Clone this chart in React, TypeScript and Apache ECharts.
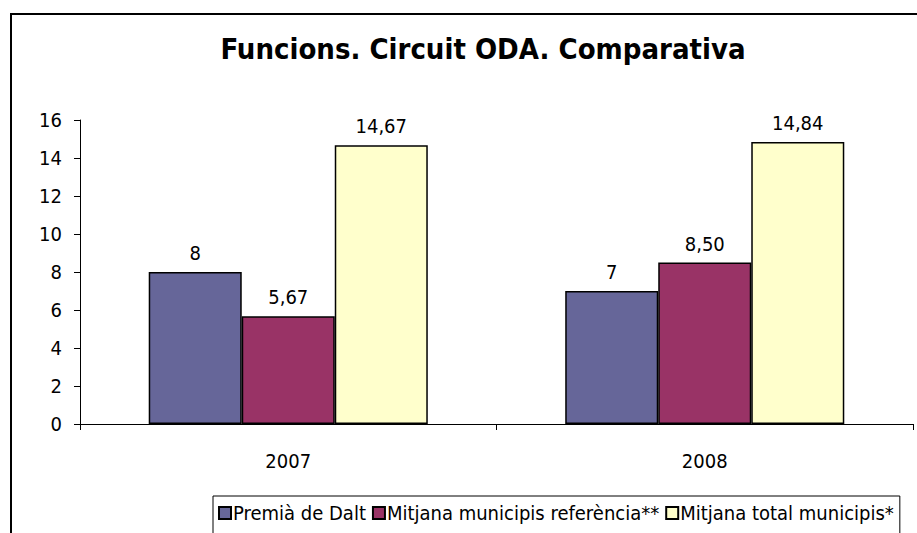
import React, { useEffect, useRef } from "react";
import * as echarts from "echarts";

const categories = ["2007", "2008"];
const seriesNames = ["Premià de Dalt", "Mitjana municipis referència**", "Mitjana total municipis*"];
const premia = [8, 7];
const referencia = [5.67, 8.5];
const total = [14.67, 14.84];
const seriesDecimals = [0, 2, 2];
const seriesColors = ["#666699", "#993366", "#FFFFCC"];

const FONT = "'DejaVu Sans Condensed', 'DejaVu Sans', sans-serif";

export default function App() {
  const ref = useRef<HTMLDivElement>(null);
  useEffect(() => {
    if (!ref.current) return;
    const chart = echarts.init(ref.current, null, { renderer: "svg" });
    const data = [premia, referencia, total];
    chart.setOption({
      animation: false,
      backgroundColor: "#ffffff",
      title: {
        text: "Funcions. Circuit ODA. Comparativa",
        left: 478,
        textAlign: "center",
        top: 29,
        textStyle: { fontFamily: FONT, fontWeight: "bold", fontSize: 29, color: "#000" },
      },
      graphic: [
        {
          type: "rect",
          shape: { x: 11, y: 14, width: 1000, height: 700 },
          style: { fill: "none", stroke: "#000", lineWidth: 2 },
          silent: true,
          z: 100,
        },
      ],
      grid: { left: 80, right: 4, top: 120, bottom: 109, containLabel: false },
      legend: {
        bottom: -20,
        left: 213,
        padding: [7, 6, 30, 5],
        borderColor: "#000",
        borderWidth: 1,
        itemWidth: 12,
        itemHeight: 12,
        itemGap: 6,
        icon: "rect",
        textStyle: { fontFamily: FONT, fontSize: 20, color: "#000", padding: [0, 0, 0, -3] },
        data: seriesNames,
      },
      xAxis: {
        type: "category",
        data: categories,
        axisLine: { lineStyle: { color: "#000", width: 1 } },
        axisTick: { show: true, length: 6, lineStyle: { color: "#000" } },
        axisLabel: { fontFamily: FONT, fontSize: 20, color: "#000", margin: 27 },
      },
      yAxis: {
        type: "value",
        min: 0,
        max: 16,
        interval: 2,
        axisLine: { show: true, lineStyle: { color: "#000", width: 1 } },
        axisTick: { show: true, length: 6, lineStyle: { color: "#000" } },
        splitLine: { show: false },
        axisLabel: { fontFamily: FONT, fontSize: 20, color: "#000", margin: 18 },
      },
      series: seriesNames.map((name, i) => ({
        name,
        type: "bar",
        data: data[i],
        barGap: "0%",
        barCategoryGap: "33%",
        itemStyle: { color: seriesColors[i], borderColor: "#000", borderWidth: 1.5 },
        label: {
          show: true,
          position: "top",
          distance: 9,
          fontFamily: FONT,
          fontSize: 20,
          color: "#000",
          formatter: (p: any) => Number(p.value).toFixed(seriesDecimals[i]).replace(".", ","),
        },
      })),
    });
    return () => chart.dispose();
  }, []);
  return <div ref={ref} style={{ position: "absolute", left: 0, top: 0, width: 917, height: 533 }} />;
}
